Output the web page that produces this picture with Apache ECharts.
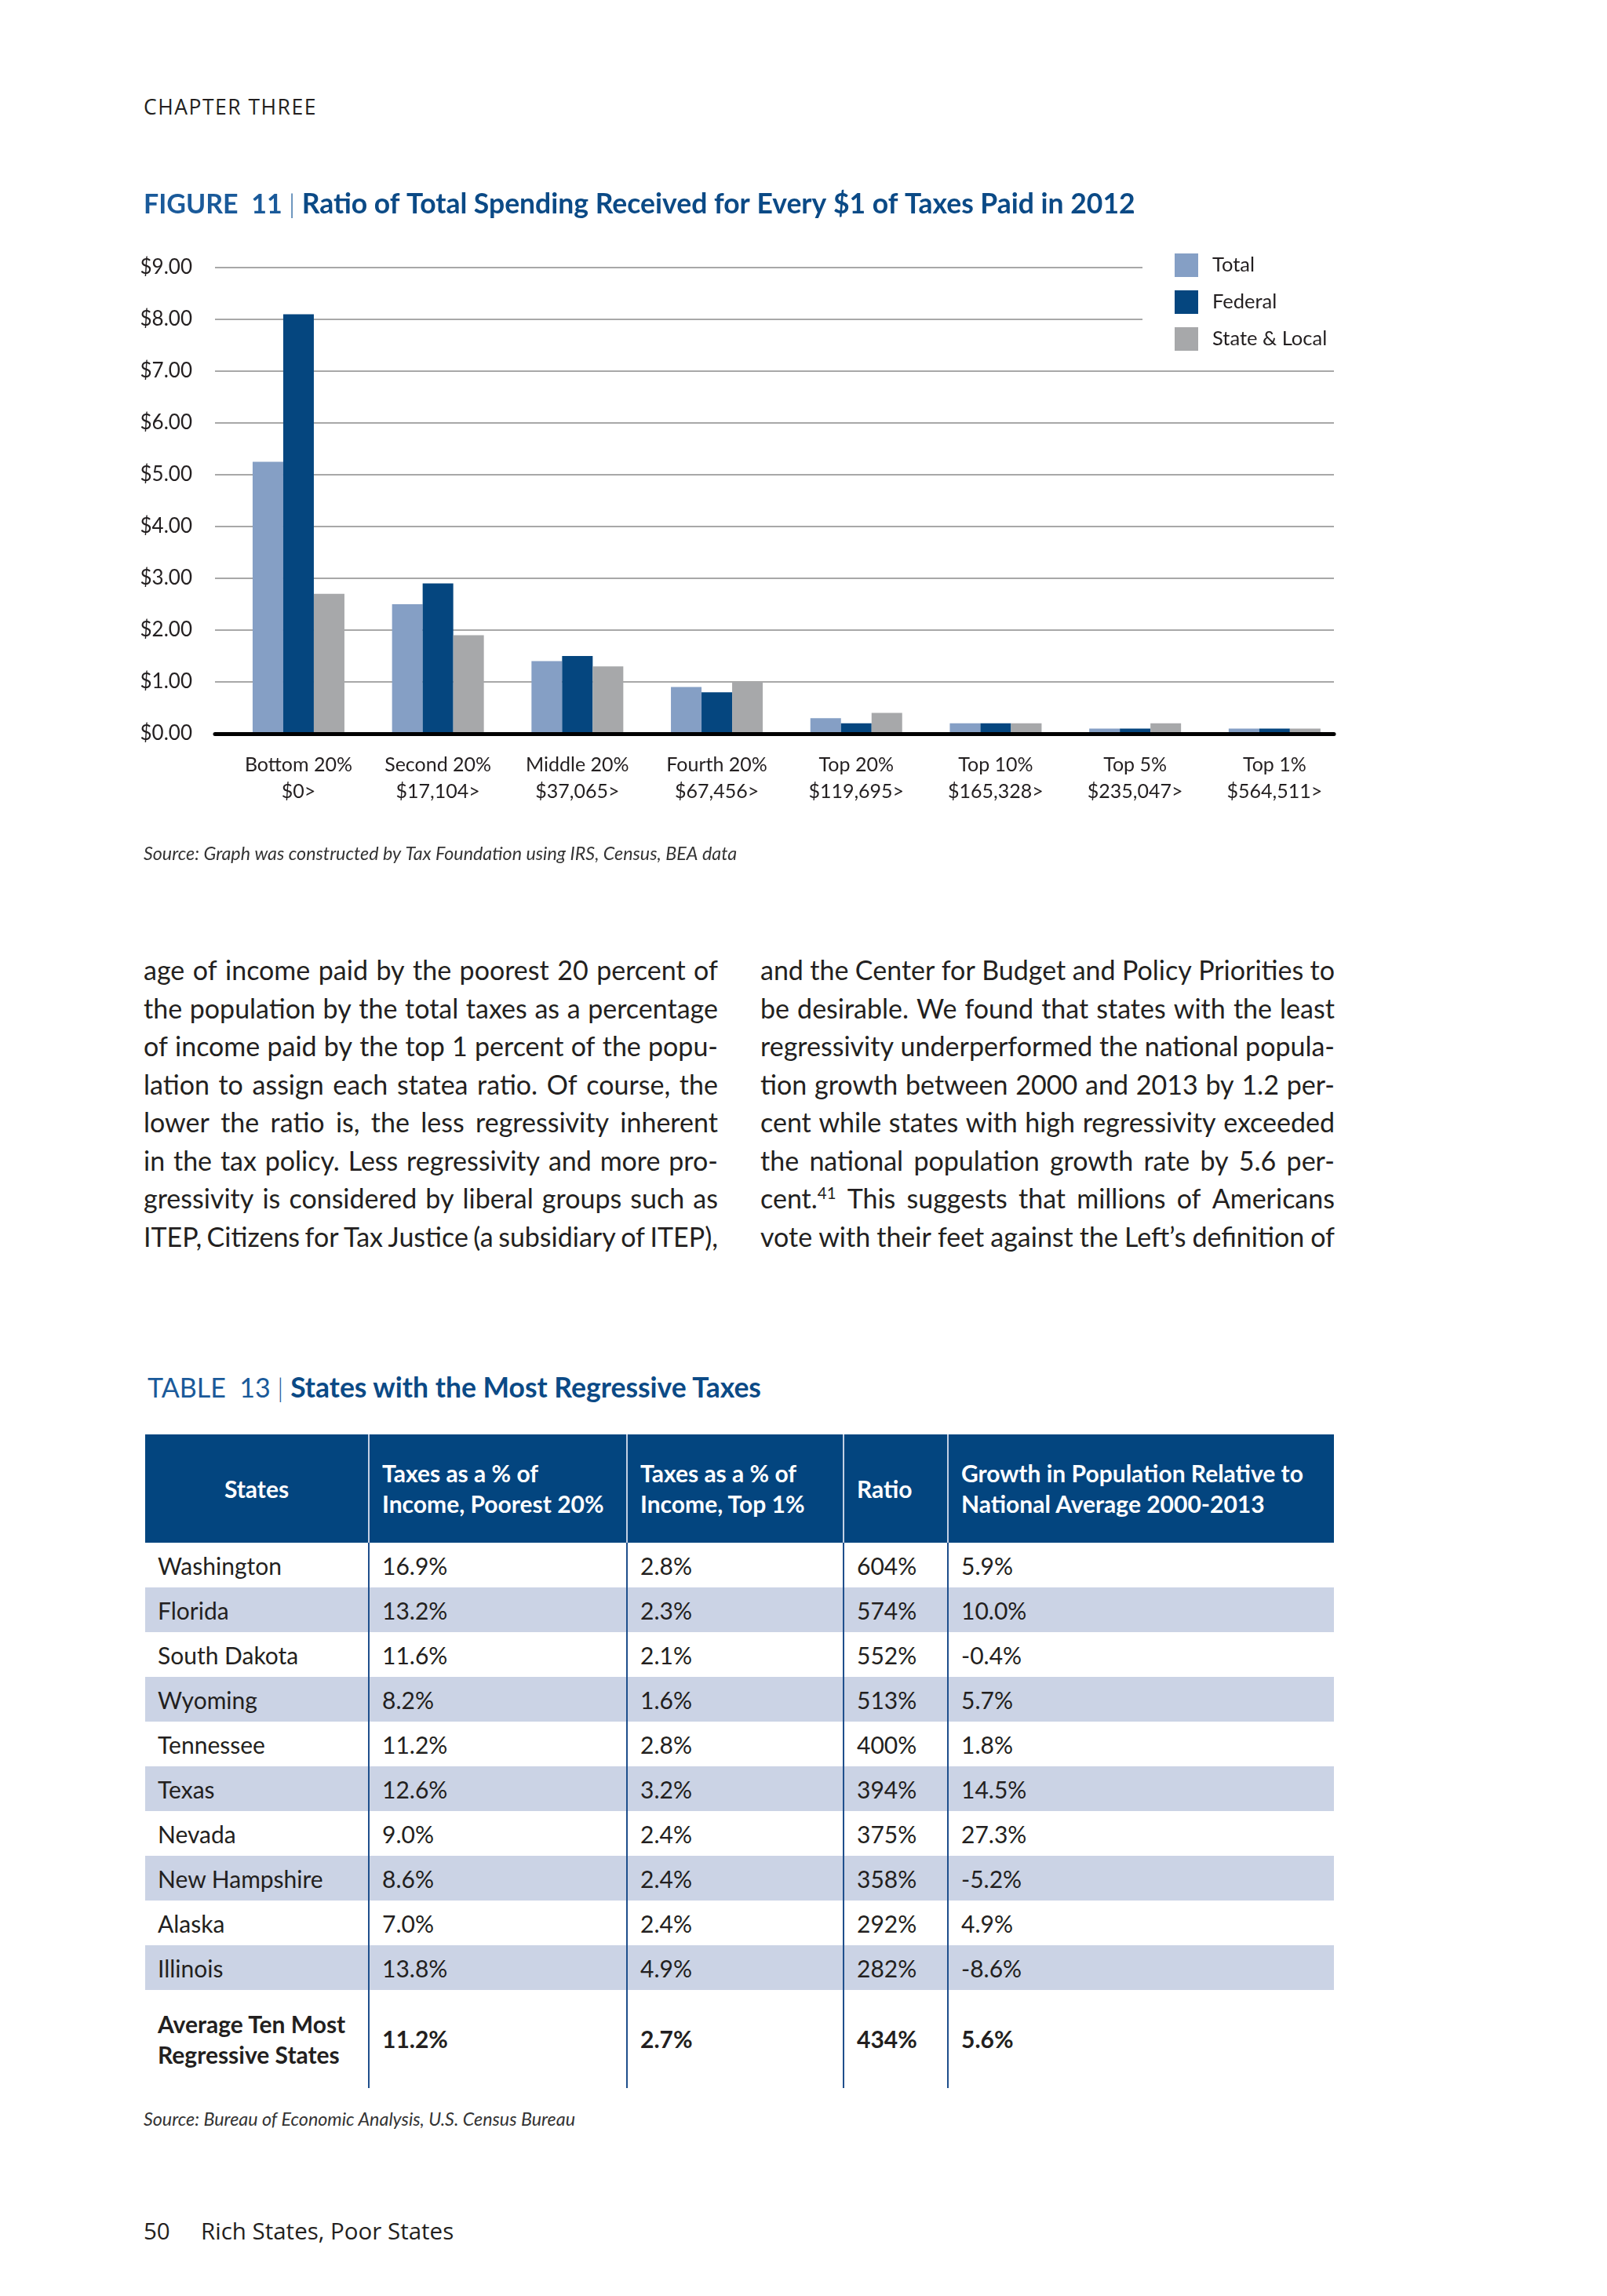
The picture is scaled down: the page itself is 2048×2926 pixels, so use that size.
<!DOCTYPE html>
<html><head><meta charset="utf-8">
<script src="https://cdn.jsdelivr.net/npm/echarts@6/dist/echarts.min.js"></script>
<style>
html,body{margin:0;padding:0;background:#fff;}
#page{position:relative;width:2048px;height:2926px;background:#fff;font-family:Lato,sans-serif;color:#231f20;overflow:hidden;}
.abs{position:absolute;white-space:nowrap;}
.chapter{left:183px;top:119px;font-family:'Open Sans';font-size:26.5px;letter-spacing:1.5px;line-height:34px;}
.footer{left:183px;top:2823px;font-family:'Open Sans';font-size:29.5px;line-height:40px;}
.footer span{display:inline-block;width:73px;}
#chart{position:absolute;left:0;top:200px;width:2048px;height:940px;}
.col{position:absolute;width:732px;font-size:34px;top:1212px;}
.line{display:flex;justify-content:space-between;height:48.5px;line-height:48.5px;white-space:nowrap;}
.line sup{font-size:60%;line-height:0;}
.ttl{left:188px;top:1747px;font-size:34px;line-height:42px;color:#1a5a9a;}
.ttl b{color:#0b4a86;font-size:35.5px;}
.src{font-style:italic;font-size:23.3px;line-height:30px;color:#333;}
#tbl{position:absolute;left:185px;top:1828px;width:1515px;border-collapse:collapse;table-layout:fixed;font-size:30px;color:#231f20;}
#tbl th{background:#03457f;color:#fff;font-weight:bold;height:138px;text-align:left;padding:0 0 0 16px;line-height:39px;vertical-align:middle;}
#tbl th:first-child{text-align:center;padding:0;}
#tbl th+th{border-left:2px solid #c3cfe3;}
#tbl td{height:57px;padding:0 0 0 16px;line-height:34px;vertical-align:middle;}
#tbl td+td{border-left:2px solid #1f4f8c;}
#tbl tr.alt td{background:#cbd3e5;}
#tbl tr.avg td{height:125px;font-weight:bold;line-height:39px;}
</style>
</head><body>
<div id="page">
  <div class="abs chapter">CHAPTER THREE</div>
  <div id="chart"></div>
  <div class="col" id="colL" style="left:183px"></div>
  <div class="col" id="colR" style="left:969px"></div>
  <div class="abs ttl">TABLE&nbsp;&nbsp;13 <span style="font-weight:300">|</span> <b>States with the Most Regressive Taxes</b></div>
  <table id="tbl"></table>
  <div class="abs src" style="left:183px;top:2685px">Source: Bureau of Economic Analysis, U.S. Census Bureau</div>
  <div class="abs footer"><span>50</span>Rich States, Poor States</div>
</div>
<script>
// ---- chart data ----
const groupNames = ['Bottom 20%', 'Second 20%', 'Middle 20%', 'Fourth 20%', 'Top 20%', 'Top 10%', 'Top 5%', 'Top 1%'];
const incomeThresholds = ['$0>', '$17,104>', '$37,065>', '$67,456>', '$119,695>', '$165,328>', '$235,047>', '$564,511>'];
const seriesNames = ['Total', 'Federal', 'State & Local'];
const totalValues = [5.25, 2.5, 1.4, 0.9, 0.3, 0.2, 0.1, 0.1];
const federalValues = [8.1, 2.9, 1.5, 0.8, 0.2, 0.2, 0.1, 0.1];
const stateLocalValues = [2.7, 1.9, 1.3, 1.0, 0.4, 0.2, 0.2, 0.1];
const yTickValues = [0, 1, 2, 3, 4, 5, 6, 7, 8, 9];
const figureTitle = 'Ratio of Total Spending Received for Every $1 of Taxes Paid in 2012';
const figureSource = 'Source: Graph was constructed by Tax Foundation using IRS, Census, BEA data';

// ---- table data ----
const tableHeaders = ['States', 'Taxes as a % of<br>Income, Poorest 20%', 'Taxes as a % of<br>Income, Top 1%', 'Ratio', 'Growth in Population Relative to<br>National Average 2000-2013'];
const states = ['Washington', 'Florida', 'South Dakota', 'Wyoming', 'Tennessee', 'Texas', 'Nevada', 'New Hampshire', 'Alaska', 'Illinois'];
const taxPoorest = ['16.9%', '13.2%', '11.6%', '8.2%', '11.2%', '12.6%', '9.0%', '8.6%', '7.0%', '13.8%'];
const taxTop1 = ['2.8%', '2.3%', '2.1%', '1.6%', '2.8%', '3.2%', '2.4%', '2.4%', '2.4%', '4.9%'];
const ratios = ['604%', '574%', '552%', '513%', '400%', '394%', '375%', '358%', '292%', '282%'];
const popGrowth = ['5.9%', '10.0%', '-0.4%', '5.7%', '1.8%', '14.5%', '27.3%', '-5.2%', '4.9%', '-8.6%'];
const averageRow = ['Average Ten Most<br>Regressive States', '11.2%', '2.7%', '434%', '5.6%'];

// ---- body text ----
const leftLines = [
  'age of income paid by the poorest 20 percent of',
  'the population by the total taxes as a percentage',
  'of income paid by the top 1 percent of the popu-',
  'lation to assign each statea ratio. Of course, the',
  'lower the ratio is, the less regressivity inherent',
  'in the tax policy. Less regressivity and more pro-',
  'gressivity is considered by liberal groups such as',
  'ITEP, Citizens for Tax Justice (a subsidiary of ITEP),'
];
const rightLines = [
  'and the Center for Budget and Policy Priorities to',
  'be desirable. We found that states with the least',
  'regressivity underperformed the national popula-',
  'tion growth between 2000 and 2013 by 1.2 per-',
  'cent while states with high regressivity exceeded',
  'the national population growth rate by 5.6 per-',
  'cent.<sup>41</sup> This suggests that millions of Americans',
  'vote with their feet against the Left\u2019s definition of'
];

function fillCol(id, lines) {
  const el = document.getElementById(id);
  el.innerHTML = lines.map(l => '<div class="line">' + l.split(' ').map(w => '<span>' + w + '</span>').join('') + '</div>').join('');
}
fillCol('colL', leftLines);
fillCol('colR', rightLines);

(function buildTable() {
  const widths = [285, 329, 276, 133, 492];
  let h = '<colgroup>' + widths.map(w => '<col style="width:' + w + 'px">').join('') + '</colgroup>';
  h += '<tr>' + tableHeaders.map(t => '<th>' + t + '</th>').join('') + '</tr>';
  states.forEach((s, i) => {
    h += '<tr class="' + (i % 2 ? 'alt' : '') + '"><td>' + s + '</td><td>' + taxPoorest[i] + '</td><td>' + taxTop1[i] + '</td><td>' + ratios[i] + '</td><td>' + popGrowth[i] + '</td></tr>';
  });
  h += '<tr class="avg">' + averageRow.map(t => '<td>' + t + '</td>').join('') + '</tr>';
  document.getElementById('tbl').innerHTML = h;
})();

const chart = echarts.init(document.getElementById('chart'));
const categories = groupNames.map((g, i) => g + '\n' + incomeThresholds[i]);
const colors = ['#859fc5', '#05467f', '#a7a8aa'];
const gridTop = 141, gridH = 594;
chart.setOption({
  animation: false,
  backgroundColor: 'transparent',
  title: {
    text: '{a|FIGURE  11 }{s||}{b| ' + figureTitle + '}',
    left: 183, top: 40, padding: 0,
    textStyle: { rich: {
      a: { fontFamily: 'Lato', fontSize: 34, color: '#1a5a9a', lineHeight: 42 },
      s: { fontFamily: 'Lato', fontSize: 34, color: '#1a5a9a', fontWeight: 300, lineHeight: 42 },
      b: { fontFamily: 'Lato', fontSize: 35.5, color: '#0b4a86', fontWeight: 'bold', lineHeight: 42 }
    } }
  },
  legend: {
    data: seriesNames, orient: 'vertical', left: 1456, top: 113,
    padding: [10, 16, 10, 41], backgroundColor: '#fff',
    itemWidth: 30, itemHeight: 30, itemGap: 17, icon: 'rect',
    textStyle: { fontFamily: 'Lato', fontSize: 25.5, color: '#231f20', padding: [0, 0, 0, 13] }
  },
  graphic: [{ type: 'text', left: 183, top: 877, style: { text: figureSource, font: 'italic 23.3px Lato', fill: '#333' } }],
  grid: [
    { left: 274, width: 1426, top: gridTop, height: gridH },
    { left: 291.6, width: 1421.6, top: gridTop, height: gridH }
  ],
  xAxis: [
    { type: 'category', gridIndex: 0, data: categories, axisLabel: { show: false }, axisTick: { show: false },
      axisLine: { lineStyle: { color: '#000', width: 5 } }, z: 5 },
    { type: 'category', gridIndex: 1, data: categories, axisTick: { show: false }, axisLine: { show: false },
      axisLabel: { fontFamily: 'Lato', fontSize: 25, color: '#231f20', lineHeight: 34, margin: 23, interval: 0 } }
  ],
  yAxis: [
    { type: 'value', gridIndex: 0, min: 0, max: 9, interval: 1, axisLine: { show: false }, axisTick: { show: false },
      splitLine: { lineStyle: { color: '#a8a8a8', width: 2 } },
      axisLabel: { fontFamily: 'Lato', fontSize: 26, color: '#231f20', margin: 29,
        formatter: v => yTickValues.includes(v) ? '$' + v.toFixed(2) : '' } },
    { type: 'value', gridIndex: 1, min: 0, max: 9, interval: 1, show: false }
  ],
  series: [
    { name: seriesNames[0], type: 'bar', xAxisIndex: 1, yAxisIndex: 1, data: totalValues, barWidth: 39, barGap: '0%', itemStyle: { color: colors[0] } },
    { name: seriesNames[1], type: 'bar', xAxisIndex: 1, yAxisIndex: 1, data: federalValues, barWidth: 39, barGap: '0%', itemStyle: { color: colors[1] } },
    { name: seriesNames[2], type: 'bar', xAxisIndex: 1, yAxisIndex: 1, data: stateLocalValues, barWidth: 39, barGap: '0%', itemStyle: { color: colors[2] } }
  ]
});
</script>
</body></html>
